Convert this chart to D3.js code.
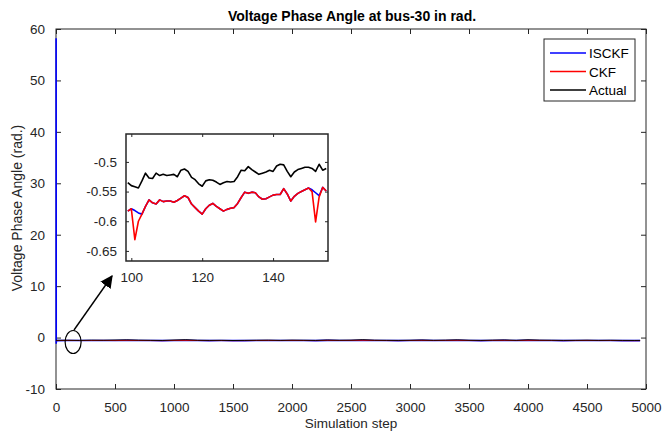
<!DOCTYPE html>
<html>
<head>
    <meta charset="utf-8">
    <title>Voltage Phase Angle at bus-30</title>
    <script src="https://d3js.org/d3.v7.min.js"></script>
    <style>
        body { margin: 0; background: #fff; }
        svg { font-family: "Liberation Sans", Arial, sans-serif; }
        .axis path, .axis line { stroke: #262626; }
        .axis text { fill: #262626; }
    </style>
</head>
<body>
<svg id="chart" width="662" height="435"></svg>
<script>
const mainSteps = [0, 100, 200, 300, 400, 500, 600, 700, 800, 900, 1000, 1100, 1200, 1300, 1400, 1500,
    1600, 1700, 1800, 1900, 2000, 2100, 2200, 2300, 2400, 2500, 2600, 2700, 2800, 2900, 3000, 3100,
    3200, 3300, 3400, 3500, 3600, 3700, 3800, 3900, 4000, 4100, 4200, 4300, 4400, 4500, 4600, 4700,
    4800, 4900, 4950];
const actualMain = [-0.53, -0.52, -0.55, -0.50, -0.52, -0.48, -0.45, -0.50, -0.53, -0.56, -0.48, -0.42,
    -0.52, -0.55, -0.53, -0.57, -0.55, -0.52, -0.50, -0.54, -0.50, -0.52, -0.55, -0.48, -0.52, -0.50,
    -0.42, -0.51, -0.53, -0.55, -0.52, -0.48, -0.53, -0.50, -0.45, -0.52, -0.55, -0.50, -0.47, -0.53,
    -0.44, -0.50, -0.52, -0.55, -0.53, -0.51, -0.54, -0.52, -0.55, -0.56, -0.55];
const ckfMain = [-0.58, -0.56, -0.58, -0.57, -0.56, -0.58, -0.55, -0.57, -0.58, -0.60, -0.56, -0.55,
    -0.57, -0.59, -0.58, -0.60, -0.59, -0.57, -0.56, -0.58, -0.56, -0.57, -0.59, -0.55, -0.57, -0.56,
    -0.53, -0.56, -0.58, -0.59, -0.57, -0.55, -0.58, -0.56, -0.54, -0.57, -0.59, -0.56, -0.55, -0.58,
    -0.54, -0.56, -0.57, -0.59, -0.58, -0.56, -0.58, -0.57, -0.59, -0.60, -0.59];
// ISCKF starts far off and drops in the first steps
const isckfStartSteps = [1, 2, 3];
const isckfStartValues = [58.2, -1.2, -0.6];

// zoomed window, steps 99..155
const insetSteps = d3.range(99, 156);
const actualInset = [-0.535, -0.540, -0.542, -0.544, -0.532, -0.519, -0.527, -0.528, -0.519, -0.523,
    -0.521, -0.523, -0.522, -0.521, -0.525, -0.514, -0.512, -0.516, -0.526, -0.530, -0.537, -0.541,
    -0.532, -0.530, -0.531, -0.534, -0.538, -0.535, -0.533, -0.534, -0.533, -0.525, -0.514, -0.515,
    -0.508, -0.513, -0.517, -0.521, -0.519, -0.517, -0.514, -0.516, -0.507, -0.504, -0.505, -0.516,
    -0.525, -0.517, -0.513, -0.511, -0.509, -0.509, -0.511, -0.516, -0.504, -0.514, -0.511];
const ckfInset = [-0.583, -0.579, -0.631, -0.600, -0.588, -0.575, -0.564, -0.569, -0.571, -0.564,
    -0.567, -0.566, -0.566, -0.568, -0.565, -0.561, -0.557, -0.560, -0.571, -0.577, -0.583, -0.588,
    -0.579, -0.573, -0.570, -0.575, -0.579, -0.583, -0.580, -0.578, -0.577, -0.570, -0.560, -0.551,
    -0.553, -0.551, -0.552, -0.559, -0.563, -0.562, -0.559, -0.556, -0.555, -0.555, -0.545, -0.554,
    -0.566, -0.558, -0.553, -0.550, -0.547, -0.544, -0.550, -0.601, -0.559, -0.543, -0.549];
const isckfInset = [-0.583, -0.579, -0.582, -0.586, -0.588, -0.575, -0.564, -0.569, -0.571, -0.564,
    -0.567, -0.566, -0.566, -0.568, -0.565, -0.561, -0.557, -0.560, -0.571, -0.577, -0.583, -0.588,
    -0.579, -0.573, -0.570, -0.575, -0.579, -0.583, -0.580, -0.578, -0.577, -0.570, -0.560, -0.551,
    -0.553, -0.551, -0.552, -0.559, -0.563, -0.562, -0.559, -0.556, -0.555, -0.555, -0.545, -0.554,
    -0.566, -0.558, -0.553, -0.550, -0.547, -0.544, -0.547, -0.552, -0.557, -0.543, -0.549];

const seriesNames = ["ISCKF", "CKF", "Actual"];
const seriesColors = ["#0000ff", "#ff0000", "#000000"];

const xTicks = d3.range(0, 5001, 500);
const yTicks = d3.range(-10, 61, 10);
const insetXTicks = [100, 120, 140];
const insetYTicks = [-0.5, -0.55, -0.6, -0.65];

const svg = d3.select("#chart");
const m = {left: 56, right: 646, top: 29, bottom: 389};

const x = d3.scaleLinear().domain([0, 5000]).range([m.left, m.right]);
const y = d3.scaleLinear().domain([-10, 60]).range([m.bottom, m.top]);

// frame
svg.append("rect")
    .attr("x", m.left).attr("y", m.top)
    .attr("width", m.right - m.left).attr("height", m.bottom - m.top)
    .attr("fill", "#fff").attr("stroke", "#262626");

// matlab style: inward ticks on all four sides, hyphen minus signs
function drawAxes(g, xs, ys, xt, yt, tick, fs, box) {
    const fmt = d => String(d);
    g.append("g").attr("class", "axis").attr("transform", `translate(0,${box.bottom})`)
        .call(d3.axisBottom(xs).tickValues(xt).tickSizeInner(-tick).tickSizeOuter(0).tickPadding(8 + tick).tickFormat(fmt))
        .call(a => a.select(".domain").remove())
        .selectAll("text").style("font-size", fs + "px");
    g.append("g").attr("class", "axis").attr("transform", `translate(0,${box.top})`)
        .call(d3.axisTop(xs).tickValues(xt).tickSizeInner(-tick).tickSizeOuter(0).tickFormat(""))
        .call(a => a.select(".domain").remove());
    g.append("g").attr("class", "axis").attr("transform", `translate(${box.left},0)`)
        .call(d3.axisLeft(ys).tickValues(yt).tickSizeInner(-tick).tickSizeOuter(0).tickPadding(6 + tick).tickFormat(fmt))
        .call(a => a.select(".domain").remove())
        .selectAll("text").style("font-size", fs + "px");
    g.append("g").attr("class", "axis").attr("transform", `translate(${box.right},0)`)
        .call(d3.axisRight(ys).tickValues(yt).tickSizeInner(-tick).tickSizeOuter(0).tickFormat(""))
        .call(a => a.select(".domain").remove());
}

drawAxes(svg, x, y, xTicks, yTicks, 5, 13.5, m);

// main lines
const mainLine = d3.line().x(d => x(d[0])).y(d => y(d[1]));
const isckfMainData = isckfStartSteps.map((s, i) => [s, isckfStartValues[i]])
    .concat(mainSteps.slice(1).map((s, i) => [s, ckfMain[i + 1]]));
const ckfMainData = mainSteps.map((s, i) => [s, ckfMain[i]]);
const actualMainData = mainSteps.map((s, i) => [s, actualMain[i]]);

[isckfMainData, ckfMainData, actualMainData].forEach((data, i) => {
    svg.append("path").datum(data)
        .attr("d", mainLine)
        .attr("fill", "none")
        .attr("stroke", seriesColors[i])
        .attr("stroke-width", i === 0 ? 1.6 : 1);
});

// title and labels
svg.append("text").attr("x", 352).attr("y", 21).attr("text-anchor", "middle")
    .style("font-size", "14px").style("font-weight", "bold")
    .text("Voltage Phase Angle at bus-30 in rad.");
svg.append("text").attr("x", 351).attr("y", 428).attr("text-anchor", "middle")
    .style("font-size", "13.5px").attr("fill", "#262626")
    .text("Simulation step");
svg.append("text").attr("transform", "translate(22,208) rotate(-90)").attr("text-anchor", "middle")
    .style("font-size", "14px").attr("fill", "#262626")
    .text("Voltage Phase Angle (rad.)");

// legend
const lg = svg.append("g");
lg.append("rect").attr("x", 544).attr("y", 39).attr("width", 91).attr("height", 62)
    .attr("fill", "#fff").attr("stroke", "#262626");
seriesNames.forEach((name, i) => {
    const ly = 53 + i * 18.5;
    lg.append("line").attr("x1", 550).attr("x2", 586).attr("y1", ly).attr("y2", ly)
        .attr("stroke", seriesColors[i]).attr("stroke-width", 1.5);
    lg.append("text").attr("x", 589).attr("y", ly + 5).style("font-size", "13.5px").text(name);
});

// ellipse and arrow marking the zoomed window
svg.append("ellipse").attr("cx", x(145)).attr("cy", 342).attr("rx", 8).attr("ry", 11.5)
    .attr("fill", "none").attr("stroke", "#000").attr("stroke-width", 1.2);
svg.append("defs").append("marker")
    .attr("id", "arrow").attr("viewBox", "0 0 10 10").attr("refX", 9).attr("refY", 5)
    .attr("markerWidth", 9).attr("markerHeight", 9).attr("orient", "auto")
    .append("path").attr("d", "M0,0 L10,5 L0,10 z").attr("fill", "#000");
svg.append("line").attr("x1", 74).attr("y1", 330).attr("x2", 112).attr("y2", 276)
    .attr("stroke", "#000").attr("stroke-width", 1.4).attr("marker-end", "url(#arrow)");

// inset
const ib = {left: 126, right: 328, top: 134, bottom: 261};
const xi = d3.scaleLinear().domain([98.5, 155.5]).range([ib.left, ib.right]);
const yi = d3.scaleLinear().domain([-0.667, -0.453]).range([ib.bottom, ib.top]);
const inset = svg.append("g");
inset.append("rect")
    .attr("x", ib.left).attr("y", ib.top)
    .attr("width", ib.right - ib.left).attr("height", ib.bottom - ib.top)
    .attr("fill", "#fff").attr("stroke", "#262626").attr("stroke-width", 1.5);
drawAxes(inset, xi, yi, insetXTicks, insetYTicks, 3, 13.5, ib);

const insetLine = d3.line().x((d, i) => xi(insetSteps[i])).y(d => yi(d));
[isckfInset, ckfInset, actualInset].forEach((data, i) => {
    inset.append("path").datum(data)
        .attr("d", insetLine)
        .attr("fill", "none")
        .attr("stroke", seriesColors[i])
        .attr("stroke-width", 1.6)
        .attr("stroke-linejoin", "round");
});
</script>
</body>
</html>
